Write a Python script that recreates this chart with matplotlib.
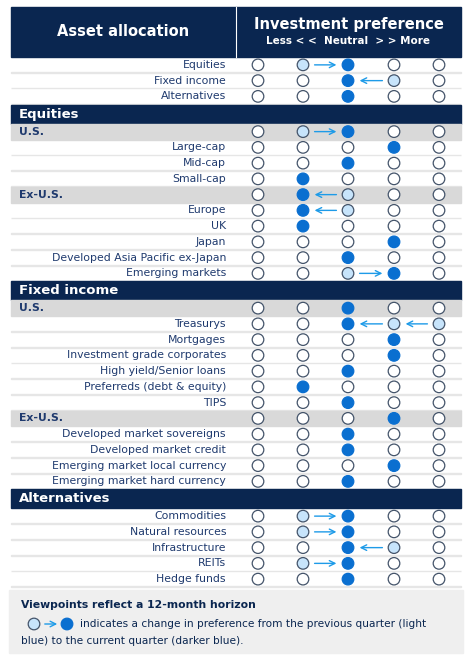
import matplotlib.pyplot as plt
from matplotlib.patches import Rectangle, Circle

NAVY = "#0a2650"
BLUE = "#0a6fd0"
LIGHT = "#c7e4fb"
ARROW = "#1e9be8"
TXT = "#1f3a6e"
GREY = "#d9d9d9"

top_labels = ["Equities", "Fixed income", "Alternatives"]
top_cur = [3, 3, 3]
top_prev = [2, 4, None]

eq_labels = ["U.S.", "Large-cap", "Mid-cap", "Small-cap", "Ex-U.S.", "Europe", "UK", "Japan",
             "Developed Asia Pacific ex-Japan", "Emerging markets"]
eq_cur = [3, 4, 3, 2, 2, 2, 2, 4, 3, 4]
eq_prev = [2, None, None, None, 3, 3, None, None, None, 3]

fi_labels = ["U.S.", "Treasurys", "Mortgages", "Investment grade corporates", "High yield/Senior loans",
             "Preferreds (debt & equity)", "TIPS", "Ex-U.S.", "Developed market sovereigns",
             "Developed market credit", "Emerging market local currency", "Emerging market hard currency"]
fi_cur = [3, 3, 4, 4, 3, 2, 3, 4, 3, 3, 4, 3]
fi_prev = [None, 5, None, None, None, None, None, None, None, None, None, None]

alt_labels = ["Commodities", "Natural resources", "Infrastructure", "REITs", "Hedge funds"]
alt_cur = [3, 3, 3, 3, 3]
alt_prev = [2, 2, 4, 2, None]

subheads = {"U.S.", "Ex-U.S."}

fig = plt.figure(figsize=(4.72, 6.57), dpi=100)
ax = fig.add_axes([0, 0, 1, 1])
ax.set_xlim(0, 472)
ax.set_ylim(657, 0)
ax.axis("off")

X0, X1, XD = 11, 461, 236
COLS = [258, 303, 348, 394, 439]
RH = 15.75
R = 5.8

# header
ax.add_patch(Rectangle((X0, 7), X1 - X0, 50, color=NAVY))
ax.plot([XD, XD], [7, 57], color="white", lw=0.8)
ax.text((X0 + XD) / 2, 32, "Asset allocation", color="white", fontsize=10.5,
        fontweight="bold", ha="center", va="center")
ax.text((XD + X1) / 2, 24, "Investment preference", color="white", fontsize=10.5,
        fontweight="bold", ha="center", va="center")
ax.text((XD + X1) / 2, 41, "Less < <  Neutral  > > More", color="white", fontsize=7.5,
        fontweight="bold", ha="center", va="center")


def draw_row(y, label, cur, prev):
    sub = label in subheads
    if sub:
        ax.add_patch(Rectangle((X0, y), X1 - X0, RH, color=GREY))
        ax.text(X0 + 8, y + RH / 2, label, color=TXT, fontsize=7.8, fontweight="bold",
                ha="left", va="center")
    else:
        ax.add_patch(Rectangle((X0, y + RH - 0.7), X1 - X0, 0.7, color="#e6e6e6"))
        ax.text(XD - 10, y + RH / 2, label, color=TXT, fontsize=7.8, ha="right", va="center")
    cy = y + RH / 2
    lit = set()
    if prev is not None:
        lo, hi = sorted((prev, cur))
        lit = set(range(lo, hi + 1)) - {cur}
        step = 1 if cur > prev else -1
        for p in range(prev, cur, step):
            xa = COLS[p - 1] + step * (R + 3)
            xb = COLS[p - 1 + step] - step * (R + 3)
            ax.annotate("", xy=(xb, cy), xytext=(xa, cy),
                        arrowprops=dict(arrowstyle="->", color=ARROW, lw=1.0))
    for i, x in enumerate(COLS, start=1):
        fc = BLUE if i == cur else (LIGHT if i in lit else "white")
        ec = BLUE if i == cur else "#44546a"
        ax.add_patch(Circle((x, cy), R, facecolor=fc, edgecolor=ec, lw=0.9))


def section(y, title):
    ax.add_patch(Rectangle((X0, y), X1 - X0, 19, color=NAVY))
    ax.text(X0 + 8, y + 9.5, title, color="white", fontsize=9.5, fontweight="bold",
            ha="left", va="center")
    return y + 19


y = 57
for lab, c, p in zip(top_labels, top_cur, top_prev):
    draw_row(y, lab, c, p)
    y += RH
y = section(y + 0.5, "Equities")
for lab, c, p in zip(eq_labels, eq_cur, eq_prev):
    draw_row(y, lab, c, p)
    y += RH
y = section(y, "Fixed income")
for lab, c, p in zip(fi_labels, fi_cur, fi_prev):
    draw_row(y, lab, c, p)
    y += RH
y = section(y, "Alternatives")
for lab, c, p in zip(alt_labels, alt_cur, alt_prev):
    draw_row(y, lab, c, p)
    y += RH

# footer
ax.add_patch(Rectangle((X0 - 2, 590), X1 - X0 + 4, 63, color="#efefef"))
ax.text(21, 605, "Viewpoints reflect a 12-month horizon", color=NAVY, fontsize=7.8,
        fontweight="bold", ha="left", va="center")
ax.add_patch(Circle((34, 624), R, facecolor=LIGHT, edgecolor="#44546a", lw=0.9))
ax.annotate("", xy=(60, 624), xytext=(42, 624),
            arrowprops=dict(arrowstyle="->", color=ARROW, lw=1.0))
ax.add_patch(Circle((67, 624), R, facecolor=BLUE, edgecolor=BLUE, lw=0.9))
ax.text(80, 624, "indicates a change in preference from the previous quarter (light",
        color=NAVY, fontsize=7.6, ha="left", va="center")
ax.text(21, 641, "blue) to the current quarter (darker blue).", color=NAVY, fontsize=7.6,
        ha="left", va="center")

fig.savefig("out.png", dpi=100)
